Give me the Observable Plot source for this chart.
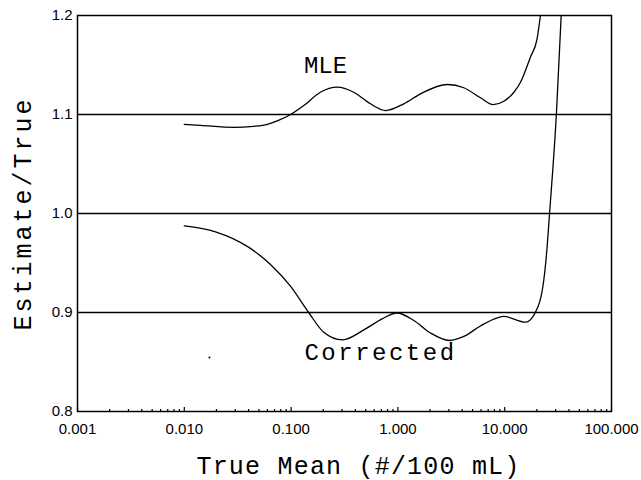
<!DOCTYPE html>
<html>
<head>
<meta charset="utf-8">
<script src="https://cdn.jsdelivr.net/npm/d3@7"></script>
<script src="https://cdn.jsdelivr.net/npm/@observablehq/plot@0.6"></script>
<style>
  html, body { margin: 0; padding: 0; background: #fff; }
</style>
</head>
<body>
<div id="chart"></div>
<script>
// MLE curve (true mean, estimate/true)
const mleX = [0.010, 0.0142, 0.0289, 0.0445, 0.060, 0.076, 0.099, 0.1315, 0.188, 0.270, 0.386, 0.553, 0.766, 1.135, 1.63, 2.91, 4.14, 5.93, 7.80, 9.81, 12.2, 14.06, 17.4, 20.1, 21.6];
const mleY = [1.090, 1.089, 1.087, 1.088, 1.090, 1.094, 1.100, 1.109, 1.1225, 1.1276, 1.1225, 1.1108, 1.104, 1.1108, 1.1209, 1.1303, 1.127, 1.1169, 1.110, 1.1134, 1.1225, 1.1326, 1.1579, 1.1765, 1.200];

// Corrected curve
const corrX = [0.010, 0.0196, 0.0399, 0.0641, 0.099, 0.147, 0.202, 0.303, 0.498, 0.710, 0.984, 1.41, 2.02, 3.04, 4.14, 5.93, 8.51, 9.81, 15.7, 19.4, 23.2, 24.8, 26.3, 30.5, 33.8];
const corrY = [0.9874, 0.9815, 0.9660, 0.9485, 0.9263, 0.8995, 0.8801, 0.8724, 0.8835, 0.8936, 0.8995, 0.8919, 0.8793, 0.8717, 0.8758, 0.8864, 0.8946, 0.8960, 0.8902, 0.9003, 0.9323, 0.9626, 1.000, 1.101, 1.200];

// stray dot on the scan
const dotX = [0.0172];
const dotY = [0.8545];

// axes
const xTicks = [0.001, 0.01, 0.1, 1, 10, 100];
const xTickLabels = ["0.001", "0.010", "0.100", "1.000", "10.000", "100.000"];
const yTicks = [0.8, 0.9, 1.0, 1.1, 1.2];
const yTickLabels = ["0.8", "0.9", "1.0", "1.1", "1.2"];
const gridY = [0.9, 1.0, 1.1];

// curve labels
const labelText = ["MLE", "Corrected"];
const labelX = [0.21, 0.687];
const labelY = [1.15, 0.8596];

const xTitle = "True Mean (#/100 mL)";
const yTitle = "Estimate/True";

const mle = mleX.map((x, i) => ({x, y: mleY[i]}));
const corr = corrX.map((x, i) => ({x, y: corrY[i]}));
const labels = labelText.map((t, i) => ({t, x: labelX[i], y: labelY[i]}));
const dots = dotX.map((x, i) => ({x, y: dotY[i]}));
const minorTicks = [];
for (let k = 0; k < xTicks.length - 1; k++) for (let m = 2; m <= 9; m++) minorTicks.push(xTicks[k] * m);

const titleFont = "Liberation Mono";

const chart = Plot.plot({
  width: 641,
  height: 480,
  marginLeft: 77,
  marginRight: 30,
  marginTop: 15,
  marginBottom: 69,
  style: {background: "white", color: "black", fontFamily: "Liberation Sans"},
  x: {type: "log", domain: [0.001, 100]},
  y: {domain: [0.8, 1.2]},
  marks: [
    Plot.ruleY(gridY, {stroke: "black", strokeWidth: 1.3}),
    Plot.axisX(minorTicks, {tickSize: -2, tickFormat: () => "", label: null, strokeWidth: 1.2}),
    Plot.axisX(xTicks, {tickSize: -4, tickFormat: () => "", label: null, strokeWidth: 1.2}),
    Plot.axisX(xTicks, {tickSize: 0, tickPadding: 12, fontSize: 15, label: null,
      tickFormat: d => xTickLabels[xTicks.indexOf(d)]}),
    Plot.axisY(yTicks, {tickSize: 0, tickPadding: 5, fontSize: 15, label: null,
      tickFormat: d => yTickLabels[yTicks.indexOf(d)]}),
    Plot.frame({stroke: "black", strokeWidth: 1.5}),
    Plot.line(mle, {x: "x", y: "y", stroke: "black", strokeWidth: 1.3, curve: "monotone-x", clip: true}),
    Plot.line(corr, {x: "x", y: "y", stroke: "black", strokeWidth: 1.3, curve: "monotone-x", clip: true}),
    Plot.dot(dots, {x: "x", y: "y", r: 1, fill: "black", stroke: null}),
    Plot.text(labels, {x: "x", y: "y", text: "t", fontSize: 24, fontFamily: titleFont, fill: "black"}),
    Plot.text([xTitle], {text: d => d, frameAnchor: "bottom", lineAnchor: "middle", dy: 54, dx: 14,
      fontSize: 25, fontFamily: titleFont, fill: "black"}),
    Plot.text([yTitle], {text: d => d, frameAnchor: "left", lineAnchor: "middle", textAnchor: "middle",
      rotate: -90, dx: -55, fontSize: 25, fontFamily: titleFont, fill: "black"})
  ]
});
// letter spacing to mimic the wide stroke font of the original
const spacing = new Map([["Corrected", "2.5px"], [xTitle, "1.2px"], [yTitle, "3px"]]);
d3.select(chart).selectAll("text").each(function() {
  const s = spacing.get(this.textContent);
  if (s) this.style.letterSpacing = s;
});
document.getElementById("chart").appendChild(chart);
</script>
</body>
</html>
